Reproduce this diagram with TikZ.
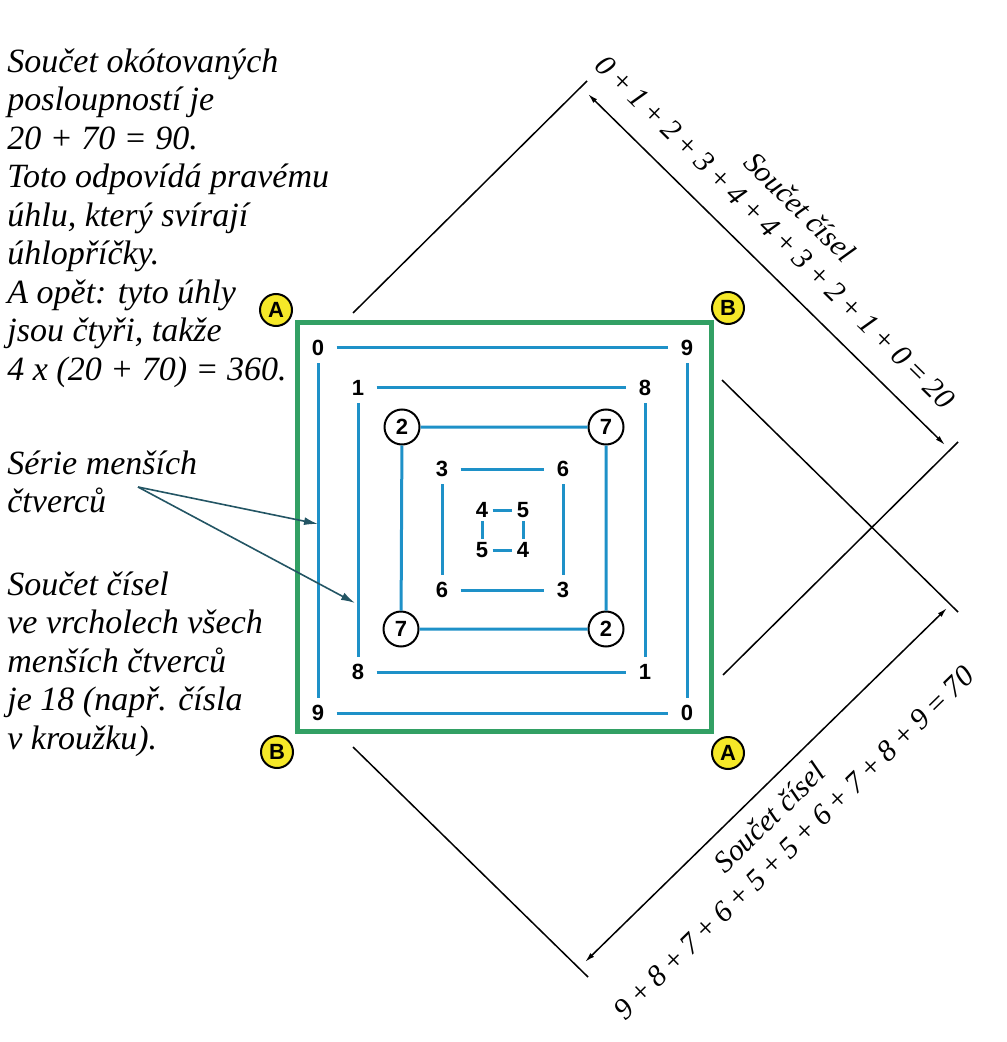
\documentclass[tikz,border=0pt]{standalone}
\usepackage{fontspec}
\setmainfont{Liberation Serif}
\setsansfont{Liberation Sans}
\usetikzlibrary{arrows.meta}
\definecolor{lineblue}{RGB}{30,145,200}
\definecolor{framegreen}{RGB}{50,160,100}
\definecolor{badgeyellow}{RGB}{245,232,40}
\definecolor{arrowteal}{RGB}{35,85,100}
\newcommand{\sumplus}{\hspace{0.18em}+\hspace{0.18em}}
\newcommand{\sumeq}{\hspace{0.18em}=\hspace{0.18em}}

\begin{document}
\begin{tikzpicture}
  [x=0.5pt, y=-0.5pt,
   num/.style={font=\sffamily\bfseries\fontsize{11}{13}\selectfont, inner xsep=6pt, inner ysep=3.5pt},
   numc/.style={num, inner xsep=2pt, inner ysep=1.5pt},
   ringed/.style={num, circle, draw, line width=1pt, minimum size=17.5pt, inner sep=0pt},
   badge/.style={circle, draw, line width=1pt, fill=badgeyellow, minimum size=16pt,
     inner sep=0pt, font=\sffamily\bfseries\fontsize{11}{13}\selectfont},
   link/.style={lineblue, line width=1.5pt},
   note/.style={anchor=north west, align=left, inner sep=0pt,
     font=\itshape\fontsize{17}{19.25}\selectfont},
   extline/.style={black, line width=0.75pt},
   dimline/.style={black, line width=0.75pt,
     {Latex[length=5pt,width=2.6pt]}-{Latex[length=5pt,width=2.6pt]}},
   sumtext/.style={align=center, inner sep=0pt, sloped,
     font=\itshape\fontsize{15}{17.5}\selectfont},
   callout/.style={arrowteal, line width=0.8pt, -{Latex[length=7pt,width=4pt]}}
  ]
  \useasboundingbox (0,0) rectangle (1006,1042);

  % texty vlevo
  \node[note] (angles) at (7,48) {Součet okótovaných\\posloupností je\\20 + 70 = 90.\\Toto odpovídá pravému\\úhlu, který svírají\\úhlopříčky.\\A opět: tyto úhly\\jsou čtyři, takže\\4 x (20 + 70) = 360.};
  \node[note] (series) at (7,450) {Série menších\\čtverců};
  \node[note] (vertices) at (7,571) {Součet čísel\\ve vrcholech všech\\menších čtverců\\je 18 (např. čísla\\v kroužku).};

  % zelený čtverec
  \draw[framegreen, line width=2.5pt] (297,323) rectangle (711,731);

  % A a B v rozích
  \node[badge] (A1) at (276,310) {A};
  \node[badge] (B1) at (728,308) {B};
  \node[badge] (B2) at (277,752) {B};
  \node[badge] (A2) at (728,753) {A};

  % čísla
  \node[num] (n0a) at (318,348) {0};
  \node[num] (n9a) at (687,348) {9};
  \node[num] (n0b) at (687,713) {0};
  \node[num] (n9b) at (318,713) {9};

  \node[num] (n1a) at (358,388) {1};
  \node[num] (n8a) at (645,388) {8};
  \node[num] (n1b) at (645,672) {1};
  \node[num] (n8b) at (358,672) {8};

  \node[ringed] (c2a) at (402,427) {2};
  \node[ringed] (c7a) at (606,427) {7};
  \node[ringed] (c2b) at (606,629) {2};
  \node[ringed] (c7b) at (401,629) {7};

  \node[num] (n3a) at (442,469) {3};
  \node[num] (n6a) at (563,469) {6};
  \node[num] (n3b) at (563,590) {3};
  \node[num] (n6b) at (442,590) {6};

  \node[numc] (n4a) at (482,510) {4};
  \node[numc] (n5a) at (523,510) {5};
  \node[numc] (n4b) at (523,550) {4};
  \node[numc] (n5b) at (482,550) {5};

  % modré spojnice
  \draw[link] (n0a) -- (n9a) (n9a) -- (n0b) (n9b) -- (n0b) (n0a) -- (n9b);
  \draw[link] (n1a) -- (n8a) (n8a) -- (n1b) (n8b) -- (n1b) (n1a) -- (n8b);
  \draw[link] (c2a) -- (c7a) (c7a) -- (c2b) (c7b) -- (c2b) (c2a) -- (c7b);
  \draw[link] (n3a) -- (n6a) (n6a) -- (n3b) (n6b) -- (n3b) (n3a) -- (n6b);
  \draw[link] (n4a) -- (n5a) (n5a) -- (n4b) (n5b) -- (n4b) (n4a) -- (n5b);

  % šipky od popisku
  \coordinate (tail) at (138,487);
  \coordinate (tip1) at (318,524);
  \coordinate (tip2) at (355,603);
  \draw[callout] (tail) -- (tip1);
  \draw[callout] (tail) -- (tip2);

  % kóty
  \coordinate (e1a) at (353,313);  \coordinate (e1b) at (587,81);
  \coordinate (e2a) at (723,675);  \coordinate (e2b) at (958,442);
  \coordinate (e3a) at (353,747);  \coordinate (e3b) at (588,977);
  \coordinate (e4a) at (722,380);  \coordinate (e4b) at (958,612);
  \draw[extline] (e1a) -- (e1b);
  \draw[extline] (e2a) -- (e2b);
  \draw[extline] (e3a) -- (e3b);
  \draw[extline] (e4a) -- (e4b);

  \coordinate (d1a) at (588,94);   \coordinate (d1b) at (945,445);
  \coordinate (d2a) at (585,962);  \coordinate (d2b) at (947,608);
  \draw[dimline] (d1a) -- node[sumtext, pos=0.46, above=11pt]
    {Součet čísel\\0\sumplus 1\sumplus 2\sumplus 3\sumplus 4\sumplus 4\sumplus 3\sumplus 2\sumplus 1\sumplus 0\sumeq 20} (d1b);
  \draw[dimline] (d2a) -- node[sumtext, pos=0.46, below=7pt]
    {Součet čísel\\9\sumplus 8\sumplus 7\sumplus 6\sumplus 5\sumplus 5\sumplus 6\sumplus 7\sumplus 8\sumplus 9\sumeq 70} (d2b);
\end{tikzpicture}
\end{document}
